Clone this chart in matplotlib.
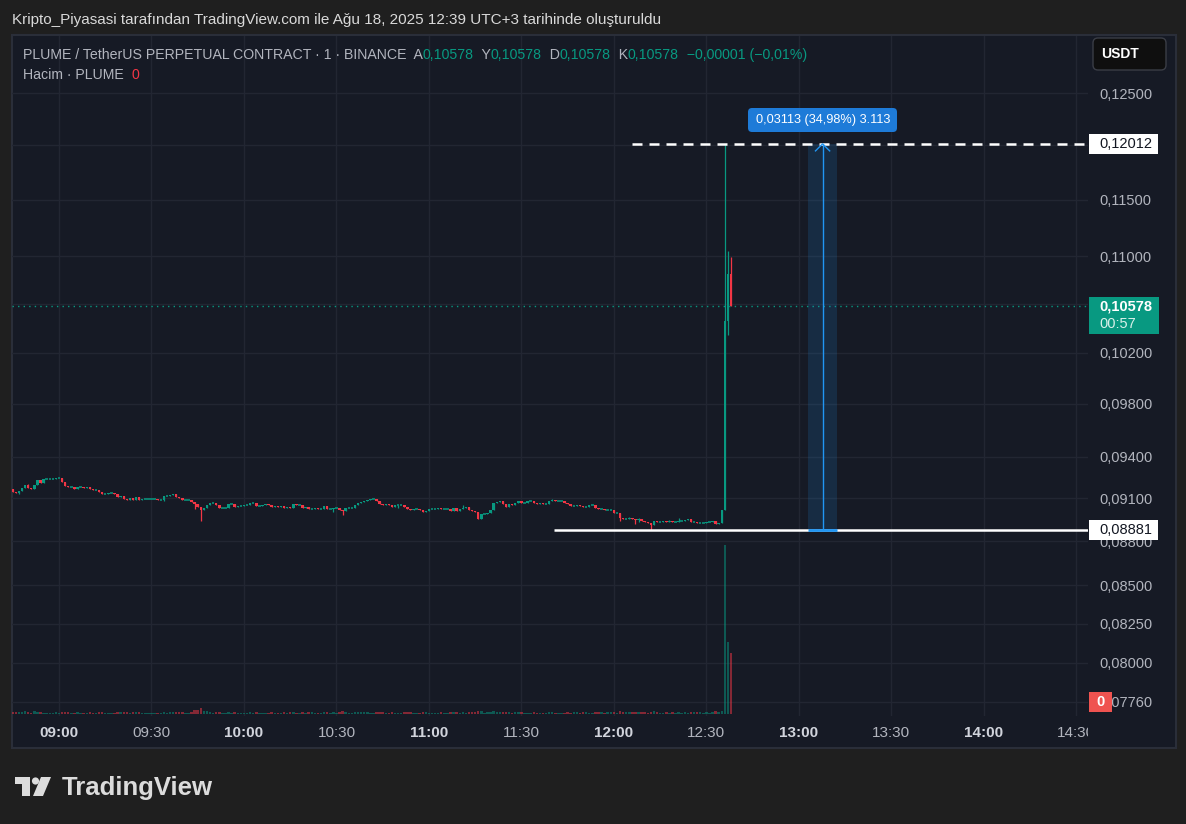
import matplotlib
matplotlib.use('Agg')
import matplotlib.pyplot as plt
import matplotlib.transforms as mtransforms
from matplotlib.patches import Rectangle, FancyBboxPatch, Polygon, Circle
import numpy as np

plt.rcParams['font.family'] = ['Liberation Sans', 'DejaVu Sans']

W, H = 1186, 824
BG_OUT = '#1f1f1f'
BG = '#161a25'
BORDER = '#2a2e39'
GRID = '#222632'
UP = '#089981'
DOWN = '#f23645'
TXT = '#b2b5be'

# 1 minute candles, first one at 08:45
start_time = '08:45'
first_open = 0.09167
closes = [
    0.09146, 0.09138, 0.09153, 0.09174, 0.09196, 0.09174, 0.09167, 0.09196, 0.09232, 0.09210,
    0.09239, 0.09239, 0.09239, 0.09239, 0.09246, 0.09246, 0.09217, 0.09189, 0.09182, 0.09182,
    0.09167, 0.09182, 0.09182, 0.09174, 0.09182, 0.09167, 0.09160, 0.09160, 0.09146, 0.09131,
    0.09131, 0.09138, 0.09138, 0.09131, 0.09110, 0.09117, 0.09095, 0.09088, 0.09103, 0.09088,
    0.09110, 0.09088, 0.09095, 0.09095, 0.09095, 0.09095, 0.09095, 0.09088, 0.09088, 0.09117,
    0.09117, 0.09124, 0.09131, 0.09110, 0.09103, 0.09088, 0.09088, 0.09088, 0.09074, 0.09060,
    0.09038, 0.09017, 0.09031, 0.09052, 0.09067, 0.09067, 0.09052, 0.09031, 0.09031, 0.09031,
    0.09060, 0.09060, 0.09038, 0.09045, 0.09045, 0.09052, 0.09052, 0.09067, 0.09067, 0.09045,
    0.09045, 0.09052, 0.09060, 0.09052, 0.09038, 0.09045, 0.09038, 0.09045, 0.09031, 0.09038,
    0.09031, 0.09060, 0.09052, 0.09052, 0.09031, 0.09038, 0.09024, 0.09024, 0.09031, 0.09024,
    0.09024, 0.09045, 0.09024, 0.09024, 0.09031, 0.09031, 0.09017, 0.09009, 0.09031, 0.09031,
    0.09031, 0.09052, 0.09067, 0.09074, 0.09081, 0.09088, 0.09095, 0.09095, 0.09081, 0.09060,
    0.09052, 0.09060, 0.09052, 0.09038, 0.09052, 0.09052, 0.09052, 0.09038, 0.09024, 0.09017,
    0.09024, 0.09024, 0.09017, 0.09002, 0.09009, 0.09024, 0.09024, 0.09024, 0.09031, 0.09024,
    0.09024, 0.09024, 0.09009, 0.09031, 0.09009, 0.09024, 0.09031, 0.09038, 0.09017, 0.09009,
    0.09002, 0.08952, 0.08988, 0.08988, 0.08995, 0.09017, 0.09067, 0.09074, 0.09081, 0.09060,
    0.09038, 0.09060, 0.09052, 0.09067, 0.09081, 0.09067, 0.09067, 0.09081, 0.09081, 0.09067,
    0.09060, 0.09067, 0.09060, 0.09060, 0.09081, 0.09088, 0.09081, 0.09081, 0.09081, 0.09067,
    0.09060, 0.09045, 0.09045, 0.09052, 0.09045, 0.09038, 0.09038, 0.09052, 0.09052, 0.09031,
    0.09024, 0.09024, 0.09017, 0.09017, 0.09017, 0.08995, 0.08995, 0.08959, 0.08952, 0.08952,
    0.08959, 0.08952, 0.08945, 0.08952, 0.08938, 0.08931, 0.08923, 0.08909, 0.08938, 0.08931,
    0.08931, 0.08938, 0.08931, 0.08938, 0.08931, 0.08931, 0.08938, 0.08938, 0.08945, 0.08952,
    0.08931, 0.08931, 0.08923, 0.08923, 0.08923, 0.08931, 0.08931, 0.08938, 0.08916, 0.08923,
    0.09017, 0.10456, 0.10847, 0.10578,
]
# wicks that stick out of the body
wick_high = {5: 0.09203, 146: 0.09052, 175: 0.09095, 200: 0.08966, 203: 0.08959,
             213: 0.08945, 216: 0.08959, 231: 0.12012, 232: 0.11045, 233: 0.10996}
wick_low = {2: 0.09131, 49: 0.09081, 59: 0.09024, 61: 0.08938, 104: 0.09002, 107: 0.08981,
            125: 0.09031, 197: 0.08938, 202: 0.08916, 203: 0.08931, 207: 0.08881, 232: 0.10343}

volumes = [
    20, 15, 12, 18, 25, 15, 10, 22, 18, 12,
    10, 8, 8, 8, 12, 10, 15, 20, 12, 8,
    10, 12, 8, 8, 10, 12, 10, 8, 12, 15,
    10, 8, 8, 10, 18, 12, 15, 12, 10, 14,
    16, 12, 8, 8, 10, 8, 8, 10, 8, 18,
    10, 12, 12, 15, 12, 14, 8, 8, 20, 35,
    40, 57, 30, 22, 15, 10, 12, 18, 8, 8,
    15, 8, 12, 10, 8, 10, 8, 12, 8, 12,
    8, 10, 10, 10, 12, 8, 10, 8, 12, 8,
    12, 15, 10, 8, 12, 8, 14, 12, 8, 10,
    8, 18, 12, 8, 12, 8, 12, 23, 14, 8,
    8, 15, 20, 18, 12, 14, 10, 8, 12, 14,
    12, 8, 10, 12, 10, 8, 8, 12, 14, 12,
    8, 8, 10, 14, 12, 10, 8, 8, 10, 12,
    8, 8, 12, 14, 12, 8, 12, 10, 14, 12,
    14, 30, 25, 10, 12, 18, 28, 12, 14, 16,
    18, 12, 10, 12, 14, 12, 8, 10, 10, 12,
    10, 8, 8, 8, 14, 12, 10, 8, 8, 8,
    12, 10, 14, 12, 10, 12, 14, 8, 10, 12,
    14, 12, 10, 12, 15, 18, 10, 22, 18, 12,
    15, 12, 20, 14, 16, 12, 10, 14, 25, 12,
    10, 10, 12, 10, 12, 10, 15, 10, 12, 10,
    14, 12, 15, 12, 10, 18, 10, 12, 25, 14,
    30, 1690, 720, 610,
]

price_ticks = [0.125, 0.12, 0.115, 0.11, 0.106, 0.102, 0.098, 0.094, 0.091,
               0.088, 0.085, 0.0825, 0.08, 0.0776]
# labels of these ticks sit under the price boxes, only their grid lines show
hidden_ticks = [0.12, 0.106]
time_labels = ['09:00', '09:30', '10:00', '10:30', '11:00', '11:30',
               '12:00', '12:30', '13:00', '13:30', '14:00', '14:30']

last_price = 0.10578
range_high = 0.12012
range_low = 0.08881
measure_text = '0,03113 (34,98%) 3.113'


def minutes(label):
    h, m = label.split(':')
    h0, m0 = start_time.split(':')
    return (int(h) * 60 + int(m)) - (int(h0) * 60 + int(m0))


def fmt(p):
    return f'{p:.5f}'.replace('.', ',')


fig = plt.figure(figsize=(W / 100, H / 100), dpi=100, facecolor=BG_OUT)
ident = mtransforms.IdentityTransform()


def pix(x, y_top):
    return (x, H - y_top)


# chart pane
fig.add_artist(Rectangle(pix(12, 748), 1164, 713, transform=ident,
                         fc=BG, ec=BORDER, lw=1.5, zorder=0))

rect = [12 / W, 1 - 716 / H, 1076 / W, 680 / H]
ax = fig.add_axes(rect, zorder=1)
axv = fig.add_axes(rect, zorder=2)
for a in (ax, axv):
    a.set_facecolor('none')
    for s in a.spines.values():
        s.set_visible(False)

n = len(closes)
x = np.arange(n)
xlim = (-0.25, 348.8)
ax.set_xlim(*xlim)
axv.set_xlim(*xlim)
ax.set_yscale('log')
ax.set_ylim(0.076742, 0.13071)

shown = [p for p in price_ticks if p not in hidden_ticks]
ax.set_yticks(shown, labels=[fmt(p) for p in shown])
ax.minorticks_off()
ax.yaxis.tick_right()
ax.tick_params(axis='y', length=0, pad=8, labelsize=10.5, labelcolor=TXT)
ax.set_xticks([])
axv.set_xticks([])
axv.set_yticks([])

# grid
for p in price_ticks:
    ax.axhline(p, color=GRID, lw=1, zorder=0)
for lab in time_labels:
    ax.axvline(minutes(lab), color=GRID, lw=1, zorder=0)

# candles
c = np.array(closes)
o = np.array([first_open] + closes[:-1])
body_hi = np.maximum(o, c)
body_lo = np.minimum(o, c)
hi = body_hi.copy()
lo = body_lo.copy()
for k, v in wick_high.items():
    hi[k] = v
for k, v in wick_low.items():
    lo[k] = v
up = c >= o
col = np.where(up, UP, DOWN)

bw = 0.8
ax.vlines(x, lo, hi, colors=col, lw=0.9, zorder=3)
ax.bar(x, body_hi - body_lo, bottom=body_lo, width=bw, color=col, lw=0, zorder=4)
flat = c == o
ax.hlines(c[flat], x[flat] - bw / 2, x[flat] + bw / 2, colors=col[flat], lw=1.1, zorder=4)

# volume
axv.bar(x, volumes, width=bw, color=col, alpha=0.5, lw=0)
axv.set_ylim(-23, 6777)

# last price line
ax.axhline(last_price, color=UP, lw=1, ls=(0, (1, 3)), zorder=2)

# drawn levels
ax.hlines(range_high, 201, xlim[1], color='white', lw=1.8, ls=(0, (4, 2.8)), zorder=5)
ax.hlines(range_low, 175.5, xlim[1], color='white', lw=1.8, zorder=5)

# price range measure
m0, m1, mc = 258.0, 267.4, 262.7
ax.add_patch(Rectangle((m0, range_low), m1 - m0, range_high - range_low,
                       fc='#2196f3', alpha=0.15, lw=0, zorder=2))
ax.vlines(mc, range_low, range_high, color='#2196f3', lw=1, zorder=6)
ax.hlines(range_low, m0, m1, color='#2196f3', lw=2, zorder=6)
ax.plot([mc - 2.3, mc, mc + 2.3], [range_high * 0.99453, range_high, range_high * 0.99453],
        color='#2196f3', lw=1, zorder=6)


def ytop(p):
    return H - ax.transData.transform((0, p))[1]


fig.add_artist(FancyBboxPatch(pix(748, 132), 149, 24, transform=ident,
                              boxstyle='round,pad=0,rounding_size=4',
                              fc='#1e7bd8', ec='none', zorder=10))
fig.text(823 / W, 1 - 120.5 / H, measure_text, color='white', fontsize=9.2,
         ha='center', va='center', zorder=11)

# price axis labels
yh = ytop(range_high)
fig.add_artist(Rectangle(pix(1089, yh + 10), 69, 20, transform=ident, fc='white', ec='none', zorder=10))
fig.text(1099 / W, 1 - yh / H, fmt(range_high), color='#131722', fontsize=10.5,
         va='center', zorder=11)
yl = ytop(range_low)
fig.add_artist(Rectangle(pix(1089, yl + 10), 69, 20, transform=ident, fc='white', ec='none', zorder=10))
fig.text(1099 / W, 1 - yl / H, fmt(range_low), color='#131722', fontsize=10.5,
         va='center', zorder=11)
yp = ytop(last_price)
fig.add_artist(Rectangle(pix(1089, yp + 28), 70, 37, transform=ident, fc=UP, ec='none', zorder=10))
fig.text(1099 / W, 1 - yp / H, fmt(last_price), color='white', fontsize=10.5,
         fontweight='bold', va='center', zorder=11)
fig.text(1099 / W, 1 - (yp + 18) / H, '00:57', color='#d8f0ea', fontsize=10.5,
         va='center', zorder=11)
fig.add_artist(Rectangle(pix(1089, 712), 23, 20, transform=ident, fc='#ef5350', ec='none', zorder=10))
fig.text(1100.5 / W, 1 - 702 / H, '0', color='white', fontsize=10.5, fontweight='bold',
         ha='center', va='center', zorder=11)

# currency button
fig.add_artist(FancyBboxPatch(pix(1093, 70), 73, 32, transform=ident,
                              boxstyle='round,pad=0,rounding_size=5',
                              fc='#0f0f0f', ec='#3a3d46', lw=1, zorder=10))
fig.text(1120 / W, 1 - 54 / H, 'USDT', color='white', fontsize=10, fontweight='bold',
         ha='center', va='center', zorder=11)

# time axis
ax_t = fig.add_axes([12 / W, 1 - 748 / H, 1076 / W, 32 / H], zorder=1)
ax_t.set_xlim(*xlim)
ax_t.axis('off')
for lab in time_labels:
    bold = lab.endswith(':00')
    ax_t.text(minutes(lab), 0.344, lab, transform=ax_t.get_xaxis_transform(),
              ha='center', va='baseline', fontsize=11,
              fontweight='bold' if bold else 'normal',
              color='#d1d4dc' if bold else TXT, clip_on=True)

# title line
fig.text(12 / W, 1 - 24 / H,
         'Kripto_Piyasasi tarafından TradingView.com ile Ağu 18, 2025 12:39 UTC+3 tarihinde oluşturuldu',
         color='#d9d9d9', fontsize=11, va='baseline')


# legend lines
def chain(pieces, x0, y0, size=10.2):
    t = fig.text(x0 / W, 1 - y0 / H, pieces[0][0], color=pieces[0][1], fontsize=size,
                 va='baseline', zorder=11)
    for s, cl in pieces[1:]:
        t = ax.annotate(s, xy=(1, 0), xycoords=t, va='bottom', ha='left', color=cl,
                        fontsize=size, annotation_clip=False, zorder=11)


v = fmt(last_price)
chain([('PLUME / TetherUS PERPETUAL CONTRACT · 1 · BINANCE  A', TXT), (v, UP),
       ('  Y', TXT), (v, UP), ('  D', TXT), (v, UP), ('  K', TXT), (v, UP),
       ('  −0,00001 (−0,01%)', UP)], 23, 59)
chain([('Hacim · PLUME  ', TXT), ('0', DOWN)], 23, 79)

# logo
logo = '#dcdcdc'
fig.add_artist(Polygon([pix(15, 777), pix(30, 777), pix(30, 796), pix(22, 796),
                        pix(22, 784), pix(15, 784)], transform=ident, fc=logo, ec='none'))
fig.add_artist(Circle(pix(35.5, 781), 3.6, transform=ident, fc=logo, ec='none'))
fig.add_artist(Polygon([pix(41, 777), pix(51, 777), pix(43, 796), pix(33, 796)],
                       transform=ident, fc=logo, ec='none'))
fig.text(62 / W, 1 - 795 / H, 'TradingView', color=logo, fontsize=18.5, fontweight='bold',
         va='baseline')

fig.savefig('out.png', dpi=100, facecolor=BG_OUT)
